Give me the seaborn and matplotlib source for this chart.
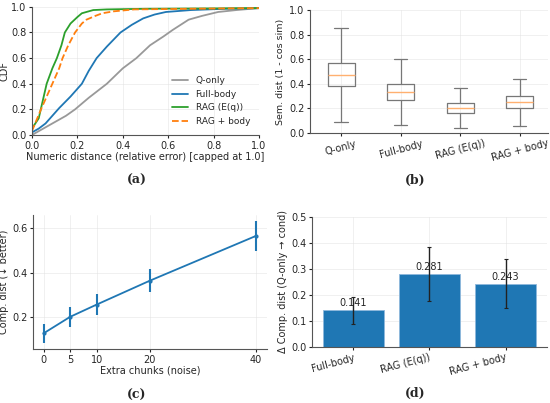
import numpy as np
import pandas as pd
import matplotlib
matplotlib.use("Agg")
import matplotlib.pyplot as plt
import seaborn as sns

# (a) CDF: (distance, cdf) pairs
q_only_x = [0.0, 0.02, 0.05, 0.10, 0.15, 0.19, 0.25, 0.33, 0.40, 0.46, 0.52, 0.58, 0.62, 0.69, 0.75, 0.82, 0.90, 1.0]
q_only_y = [0.0, 0.02, 0.05, 0.10, 0.15, 0.20, 0.29, 0.40, 0.52, 0.60, 0.70, 0.77, 0.82, 0.90, 0.93, 0.96, 0.975, 0.99]
full_x = [0.0, 0.03, 0.06, 0.09, 0.12, 0.17, 0.22, 0.25, 0.285, 0.33, 0.39, 0.44, 0.49, 0.54, 0.59, 0.70, 0.85, 1.0]
full_y = [0.02, 0.05, 0.09, 0.15, 0.21, 0.30, 0.40, 0.50, 0.60, 0.69, 0.80, 0.86, 0.91, 0.94, 0.96, 0.975, 0.985, 0.99]
rag_x = [0.0, 0.03, 0.065, 0.09, 0.11, 0.13, 0.145, 0.17, 0.20, 0.22, 0.25, 0.27, 0.33, 0.50, 1.0]
rag_y = [0.05, 0.13, 0.40, 0.52, 0.60, 0.70, 0.80, 0.87, 0.92, 0.95, 0.965, 0.975, 0.98, 0.985, 0.99]
ragb_x = [0.0, 0.04, 0.09, 0.12, 0.135, 0.16, 0.19, 0.22, 0.24, 0.28, 0.31, 0.36, 0.45, 0.70, 1.0]
ragb_y = [0.03, 0.20, 0.40, 0.52, 0.60, 0.70, 0.80, 0.87, 0.90, 0.93, 0.95, 0.965, 0.98, 0.985, 0.99]

# (b) box stats: low whisker, q1, median, q3, high whisker
box_names = ["Q-only", "Full-body", "RAG (E(q))", "RAG + body"]
box_stats = {
    "Q-only": [0.09, 0.38, 0.475, 0.57, 0.855],
    "Full-body": [0.065, 0.268, 0.332, 0.398, 0.60],
    "RAG (E(q))": [0.04, 0.16, 0.202, 0.24, 0.362],
    "RAG + body": [0.06, 0.202, 0.25, 0.297, 0.44],
}

# (c) noise sweep
chunks = [0, 5, 10, 20, 40]
comp_mean = [0.129, 0.203, 0.258, 0.365, 0.566]
comp_err = [0.043, 0.046, 0.047, 0.052, 0.067]

# (d) delta bars
bar_names = ["Full-body", "RAG (E(q))", "RAG + body"]
bar_vals = [0.141, 0.281, 0.243]
bar_err = [0.052, 0.104, 0.094]

sns.set_style("ticks")
plt.rcParams["font.family"] = ["DejaVu Sans"]
plt.rcParams["font.size"] = 7
plt.rcParams["axes.labelsize"] = 7
plt.rcParams["xtick.labelsize"] = 7
plt.rcParams["ytick.labelsize"] = 7
plt.rcParams["xtick.major.size"] = 2.5
plt.rcParams["ytick.major.size"] = 2.5
plt.rcParams["axes.edgecolor"] = "#555555"
plt.rcParams["axes.linewidth"] = 0.8

blue = "#1f77b4"
fig = plt.figure(figsize=(5.5, 4.03), dpi=100)

ax_a = fig.add_axes([0.058, 0.665, 0.413, 0.318])
ax_b = fig.add_axes([0.564, 0.670, 0.433, 0.305])
ax_c = fig.add_axes([0.060, 0.134, 0.425, 0.333])
ax_d = fig.add_axes([0.567, 0.139, 0.427, 0.323])

# (a)
curves = [("Q-only", q_only_x, q_only_y, "#999999", "-"),
          ("Full-body", full_x, full_y, blue, "-"),
          ("RAG (E(q))", rag_x, rag_y, "#2ca02c", "-"),
          ("RAG + body", ragb_x, ragb_y, "#ff7f0e", "--")]
for name, xs, ys, col, ls in curves:
    sns.lineplot(x=xs, y=ys, ax=ax_a, color=col, linestyle=ls, lw=1.3, label=name, sort=False)
ax_a.set_xlim(0, 1)
ax_a.set_ylim(0, 1)
ax_a.set_xlabel("Numeric distance (relative error) [capped at 1.0]", labelpad=1)
ax_a.set_ylabel("CDF", labelpad=1)
ax_a.legend(loc="lower right", frameon=False, fontsize=6.5, handlelength=1.8,
            borderaxespad=0.6, bbox_to_anchor=(1.0, 0.0))

# (b)
rows = []
for name in box_names:
    for v in box_stats[name]:
        rows.append({"cond": name, "dist": v})
box_df = pd.DataFrame(rows)
sns.boxplot(data=box_df, x="cond", y="dist", ax=ax_b, whis=(0, 100), width=0.45,
            fill=False, color="#777777", linewidth=0.9,
            medianprops={"color": "#ffb070", "linewidth": 1.0})
ax_b.set_xlim(-0.52, 3.48)
ax_b.set_ylim(0, 1.0)
ax_b.set_xlabel("")
ax_b.set_ylabel("Sem. dist (1 - cos sim)", fontsize=6.8, labelpad=3)
plt.setp(ax_b.get_xticklabels(), rotation=15)

# (c)
sns.lineplot(x=chunks, y=comp_mean, ax=ax_c, color=blue, lw=1.3, marker="o", markersize=3,
             markeredgewidth=0)
ax_c.errorbar(chunks, comp_mean, yerr=comp_err, fmt="none", ecolor=blue, elinewidth=1.5)
ax_c.set_xticks(chunks)
ax_c.set_xlim(-2, 42)
ax_c.set_yticks([0.2, 0.4, 0.6])
ax_c.set_xlabel("Extra chunks (noise)", labelpad=1)
ax_c.set_ylabel("Comp. dist (↓ better)", labelpad=2)

# (d)
sns.barplot(x=bar_names, y=bar_vals, ax=ax_d, color=blue, saturation=1, width=0.8,
            edgecolor="#8fb8dc", linewidth=0.6, errorbar=None)
ax_d.errorbar(range(len(bar_names)), bar_vals, yerr=bar_err, fmt="none", ecolor="#222222",
              elinewidth=1.0, capsize=1.5, capthick=0.8)
for i, v in enumerate(bar_vals):
    ax_d.text(i, v + 0.008, f"{v:.3f}", ha="center", va="bottom", fontsize=7)
ax_d.set_ylim(0, 0.5)
ax_d.set_xlim(-0.54, 2.54)
ax_d.set_ylabel("Δ Comp. dist (Q-only → cond)", labelpad=2)
plt.setp(ax_d.get_xticklabels(), rotation=15, ha="right", rotation_mode="anchor")

for ax in (ax_a, ax_b, ax_c, ax_d):
    sns.despine(ax=ax)
    ax.grid(True, color="#dddddd", lw=0.5, alpha=0.6)
    ax.set_axisbelow(True)
    ax.tick_params(pad=1.5)

cap_kw = dict(ha="center", va="center", fontsize=9, family="DejaVu Serif", weight="bold")
fig.text(137 / 550, 1 - 180 / 403, "(a)", **cap_kw)
fig.text(415 / 550, 1 - 180 / 403, "(b)", **cap_kw)
fig.text(137 / 550, 1 - 395 / 403, "(c)", **cap_kw)
fig.text(415 / 550, 1 - 393 / 403, "(d)", **cap_kw)

fig.savefig("out.png", dpi=100, facecolor="white")
